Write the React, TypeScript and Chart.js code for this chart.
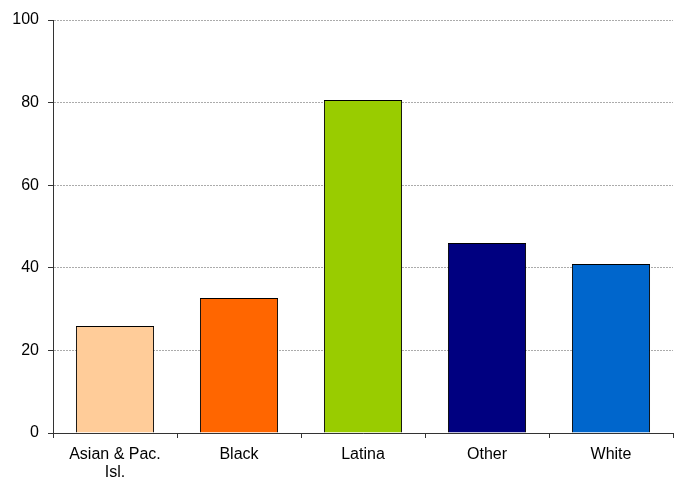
import React, { useEffect, useRef } from "react";
import { Chart, registerables } from "chart.js";

Chart.register(...registerables);

const categories: (string | string[])[] = [["Asian & Pac.", "Isl."], "Black", "Latina", "Other", "White"];
const values = [25.9, 32.7, 80.6, 46.0, 40.9];
const barColors = ["#FFCC99", "#FF6600", "#99CC00", "#000080", "#0066CC"];
const yTicks = [0, 20, 40, 60, 80, 100];

export default function App() {
  const ref = useRef<HTMLCanvasElement | null>(null);
  useEffect(() => {
    document.body.style.margin = "0";
    const font = { family: "'Liberation Sans', Arial, sans-serif", size: 16, lineHeight: 1.1 };
    const chart = new Chart(ref.current!, {
      type: "bar",
      data: {
        labels: categories,
        datasets: [
          {
            data: values,
            backgroundColor: barColors,
            borderColor: "#000000",
            borderWidth: 1,
            categoryPercentage: 1,
            barPercentage: 0.63,
          },
        ],
      },
      options: {
        animation: false,
        responsive: false,
        maintainAspectRatio: false,
        layout: { padding: { top: 20, right: 7, left: 0, bottom: 0 } },
        plugins: { legend: { display: false }, tooltip: { enabled: false } },
        scales: {
          x: {
            offset: true,
            grid: {
              offset: true,
              drawOnChartArea: false,
              drawTicks: true,
              tickLength: 5,
              color: "#333333",
            },
            border: { display: true, color: "#333333", width: 1 },
            ticks: { color: "#000000", font, padding: 8, maxRotation: 0, autoSkip: false },
            afterFit: (s: any) => {
              s.height = 48;
            },
          },
          y: {
            min: 0,
            max: 100,
            afterBuildTicks: (s: any) => {
              s.ticks = yTicks.map((v) => ({ value: v }));
            },
            grid: {
              color: "#ababab",
              tickLength: 5,
              tickColor: "#333333",
              tickBorderDash: [],
            } as any,
            border: { display: true, color: "#333333", width: 1, dash: [2, 1] },
            ticks: { color: "#000000", font, padding: 9 },
            afterFit: (s: any) => {
              s.width = 53;
            },
          },
        },
      },
    });
    return () => chart.destroy();
  }, []);
  return (
    <div style={{ width: 680, height: 481, position: "relative" }}>
      <canvas ref={ref} width={680} height={481} style={{ width: 680, height: 481, display: "block" }} />
    </div>
  );
}
